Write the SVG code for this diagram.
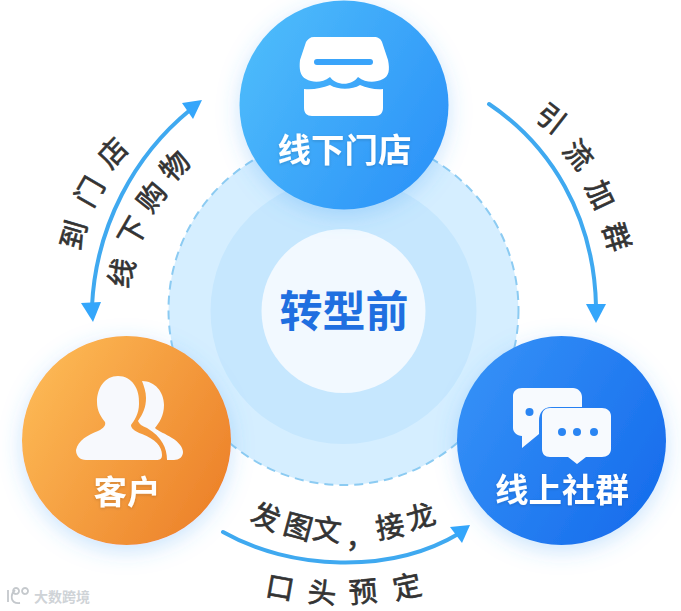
<svg xmlns="http://www.w3.org/2000/svg" width="681" height="611" viewBox="0 0 681 611">
<style>
text{font-family:"Noto Sans CJK SC","Liberation Sans",sans-serif}
.t{fill:#333;stroke:#333;stroke-width:.7;font-size:28.500px;font-weight:400;text-anchor:middle}
.n{fill:#fff;font-size:33.500px;font-weight:700;text-anchor:middle}
.c{fill:none;stroke:#3fa9f0;stroke-width:4;stroke-linecap:round}
.h{fill:#34a6fb}
</style>
<defs>
<linearGradient id="gb" x1="0" y1="0.2" x2="1" y2="0.8"><stop offset="0" stop-color="#4ebcfb"/><stop offset="1" stop-color="#2b92f8"/></linearGradient>
<linearGradient id="gd" x1="0" y1="0.2" x2="1" y2="0.8"><stop offset="0" stop-color="#3591f7"/><stop offset="1" stop-color="#166cec"/></linearGradient>
<linearGradient id="go" x1="0" y1="0.2" x2="1" y2="0.8"><stop offset="0" stop-color="#fdba56"/><stop offset="1" stop-color="#ec8028"/></linearGradient>
<filter id="s" x="-30%" y="-30%" width="160%" height="160%"><feDropShadow dx="0" dy="6" stdDeviation="11" flood-color="#3f9ff5" flood-opacity=".28"/></filter>
<filter id="ts" x="-10%" y="-10%" width="120%" height="130%"><feDropShadow dx="0" dy="1" stdDeviation="1.500" flood-color="#333" flood-opacity=".18"/></filter>
</defs>
<g id="center">
<circle cx="343.500" cy="310" r="175" fill="#d5eeff" stroke="#8ccbf2" stroke-width="2" stroke-dasharray="9 6"/>
<circle cx="343.500" cy="311" r="133" fill="#c6e7fe"/>
<circle cx="343.500" cy="311" r="82" fill="#f2f9ff"/>
<text x="344" y="327" fill="#1f6fe0" text-anchor="middle" style="font-size:43px;font-weight:700">转型前</text>
</g>
<g id="connectors">
<path class="c" d="M489 104C550 145 594 215 596 306"/>
<polygon class="h" points="586,304 606,304 596,323"/>
<path class="c" d="M92 306C96 225 135 155 190 110"/>
<polygon class="h" points="182,103 202,100 193,119"/>
<polygon class="h" points="81,303 101,302 93,322"/>
<path class="c" d="M223 532C290 570 390 575 460 533"/>
<polygon class="h" points="450,527 470,525 462,543"/>
</g>
<g id="node-store">
<circle cx="344" cy="105" r="104.500" fill="url(#gb)" filter="url(#s)"/>
<path fill="#fff" d="M314 37H374C378 37 381 39 382 42L388 60C390 70 389 76 383 79C375 83 366 83 358 77C352 86 336 86 330 77C322 83 313 83 306 79C300 76 299 69 300 60L306 42C308 39 310 37 314 37Z"/>
<rect x="314" y="59" width="59" height="6" rx="3" fill="#3aa4fa"/>
<path fill="#fff" d="M304 89C313 90 322 88 330 85C338 90 352 90 360 85C367 88 376 90 383 89V108C383 113 380 116 375 116H312C307 116 304 113 304 108Z"/>
<text class="n" x="344.500" y="162" filter="url(#ts)">线下门店</text>
</g>
<g id="node-community">
<circle cx="561.500" cy="440.500" r="104.500" fill="url(#gd)" filter="url(#s)"/>
<path fill="#f7fafe" d="M522 388H573C578 388 582 392 582 397V407H552C543 407 539 413 539 421V434L522 448V436C517 436 513 432 513 428V396C513 391 517 388 522 388Z"/>
<circle cx="529.500" cy="412" r="4" fill="#2a85f3"/>
<path fill="#f7fafe" d="M550 408H602C607 408 611 411 611 416V449C611 454 607 457 602 457H586L577 464L568 457H550C545 457 542 454 542 449V416C542 411 545 408 550 408Z"/>
<circle cx="562" cy="432" r="4" fill="#2a85f3"/><circle cx="577" cy="432" r="4" fill="#2a85f3"/><circle cx="594" cy="432" r="4" fill="#2a85f3"/>
<text class="n" x="562" y="502" filter="url(#ts)">线上社群</text>
</g>
<g id="node-customer">
<circle cx="126.500" cy="440.500" r="104.500" fill="url(#go)" filter="url(#s)"/>
<path fill="#f7f9fd" d="M118 376C132 376 140 389 139 404C139 414 134 421 131 425C131 428 134 431 142 434C155 439 162 446 162 455C162 459 160 460 156 460H86C80 460 76 456 76 450C78 440 88 435 98 431C104 428 106 425 105 422C101 417 97 411 97 402C97 388 105 376 118 376Z"/>
<path fill="#f7f9fd" d="M142 381C155 381 164 392 164 405C164 416 159 423 155 428C158 431 166 434 172 438C179 442 183 448 183 452C183 457 179 460 174 460H167C167 448 162 437 147 428C142 426 139 424 138 421C143 414 146 407 146 398C146 392 144 386 142 381Z"/>
<text class="n" x="127" y="504" filter="url(#ts)">客户</text>
</g>
<g id="labels">
<text class="t" transform="translate(551 119) rotate(38)" y="10">引</text>
<text class="t" transform="translate(578 155) rotate(50)" y="10">流</text>
<text class="t" transform="translate(600 195) rotate(65)" y="10">加</text>
<text class="t" transform="translate(616 237) rotate(73)" y="10">群</text>
<text class="t" transform="translate(74 235) rotate(-74)" y="10">到</text>
<text class="t" transform="translate(90 192) rotate(-60)" y="10">门</text>
<text class="t" transform="translate(113 153) rotate(-47)" y="10">店</text>
<text class="t" transform="translate(122 273) rotate(-75)" y="10">线</text>
<text class="t" transform="translate(133 232) rotate(-60)" y="10">下</text>
<text class="t" transform="translate(152 197) rotate(-52)" y="10">购</text>
<text class="t" transform="translate(175 166) rotate(-45)" y="10">物</text>
<text class="t" transform="translate(266 517) rotate(22)" y="10">发</text>
<text class="t" transform="translate(298 527) rotate(15)" y="10">图</text>
<text class="t" transform="translate(327 530) rotate(8)" y="10">文</text>
<text class="t" transform="translate(360 538)" y="10">，</text>
<text class="t" transform="translate(390 527) rotate(-10)" y="10">接</text>
<text class="t" transform="translate(421 517) rotate(-16)" y="10">龙</text>
<text class="t" transform="translate(280 588) rotate(10)" y="10">口</text>
<text class="t" transform="translate(322 593) rotate(5)" y="10">头</text>
<text class="t" transform="translate(363 592) rotate(-5)" y="10">预</text>
<text class="t" transform="translate(407 587) rotate(-12)" y="10">定</text>
</g>
<g id="watermark">
<path d="M8 590V602M15 590C10 595 10 604 20 603M16 594a3 3 0 1 1 .1 0M25 594a3 3 0 1 1 .1 0" fill="none" stroke="#c4c8cc" stroke-width="1.800"/>
<text x="34" y="602" style="font-size:14px;font-weight:700" fill="#cfd3d7">大数跨境</text>
</g>
</svg>
